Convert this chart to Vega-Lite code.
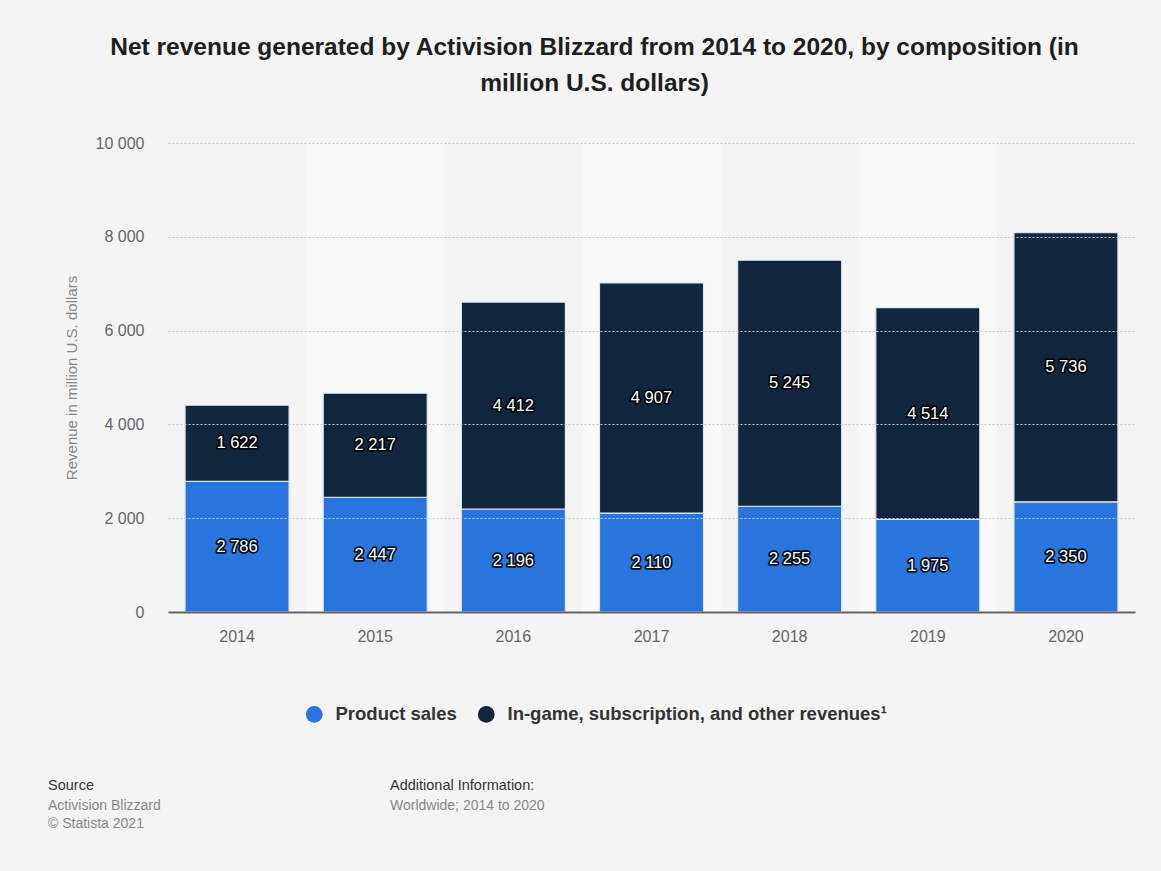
{
  "$schema": "https://vega.github.io/schema/vega-lite/v6.json",
  "width": 967,
  "height": 469,
  "autosize": {"type": "none"},
  "padding": {"left": 168, "top": 143, "right": 26, "bottom": 259},
  "background": "#f4f4f4",
  "config": {"font": "Liberation Sans", "view": {"stroke": null}},
  "title": {
    "text": ["Net revenue generated by Activision Blizzard from 2014 to 2020, by composition (in", "million U.S. dollars)"],
    "fontSize": 24.5,
    "fontWeight": "bold",
    "color": "#1e1e1e",
    "lineHeight": 36,
    "anchor": "middle",
    "frame": "group",
    "dx": -57,
    "offset": 39
  },
  "resolve": {"scale": {"shape": "independent"}},
  "layer": [
    {
      "data": {"values": [{"year": "2015"}, {"year": "2017"}, {"year": "2019"}]},
      "mark": {"type": "bar", "width": {"band": 1.328}, "color": "#f9f9f9", "zindex": 0},
      "encoding": {
        "x": {
          "field": "year", "type": "ordinal",
          "scale": {"domain": ["2014", "2015", "2016", "2017", "2018", "2019", "2020"], "paddingInner": 0.247, "paddingOuter": 0.1235},
          "axis": {"title": null, "labelFontSize": 16, "labelColor": "#666", "labelPadding": 16, "ticks": false, "tickSize": 0, "domainColor": "#666", "domainWidth": 2, "grid": false, "labelAngle": 0, "zindex": 1}
        }
      }
    },
    {
      "data": {"values": [
        {"year": "2014", "type": "Product sales", "value": 2786},
        {"year": "2015", "type": "Product sales", "value": 2447},
        {"year": "2016", "type": "Product sales", "value": 2196},
        {"year": "2017", "type": "Product sales", "value": 2110},
        {"year": "2018", "type": "Product sales", "value": 2255},
        {"year": "2019", "type": "Product sales", "value": 1975},
        {"year": "2020", "type": "Product sales", "value": 2350},
        {"year": "2014", "type": "In-game, subscription, and other revenues¹", "value": 1622},
        {"year": "2015", "type": "In-game, subscription, and other revenues¹", "value": 2217},
        {"year": "2016", "type": "In-game, subscription, and other revenues¹", "value": 4412},
        {"year": "2017", "type": "In-game, subscription, and other revenues¹", "value": 4907},
        {"year": "2018", "type": "In-game, subscription, and other revenues¹", "value": 5245},
        {"year": "2019", "type": "In-game, subscription, and other revenues¹", "value": 4514},
        {"year": "2020", "type": "In-game, subscription, and other revenues¹", "value": 5736}
      ]},
      "transform": [
        {"stack": "value", "groupby": ["year"], "sort": [{"field": "type", "order": "descending"}], "as": ["v0", "v1"]},
        {"calculate": "(datum.v0 + datum.v1) / 2", "as": "mid"},
        {"calculate": "replace(format(datum.value, ','), ',', ' ')", "as": "lab"}
      ],
      "layer": [
        {
          "mark": {"type": "bar", "stroke": "#dce6f2", "strokeWidth": 1.2, "zindex": 2},
          "encoding": {
            "x": {
              "field": "year", "type": "ordinal",
              "scale": {"domain": ["2014", "2015", "2016", "2017", "2018", "2019", "2020"], "paddingInner": 0.247, "paddingOuter": 0.1235},
              "axis": {"title": null, "labelFontSize": 16, "labelColor": "#666", "labelPadding": 16, "ticks": false, "tickSize": 0, "domainColor": "#666", "domainWidth": 2, "grid": false, "labelAngle": 0, "zindex": 1}
            },
            "y": {
              "field": "v1", "type": "quantitative",
              "scale": {"domain": [0, 10000], "nice": false},
              "axis": {"title": "Revenue in million U.S. dollars", "values": [0, 2000, 4000, 6000, 8000, 10000], "labelExpr": "replace(format(datum.value, ','), ',', ' ')", "labelFontSize": 16, "labelColor": "#666", "labelPadding": 24, "ticks": false, "tickSize": 0, "domain": false, "gridColor": "#c8c8c8", "gridDash": [2, 2], "gridWidth": 1, "titleFontSize": 15, "titleColor": "#888", "titleFontWeight": "normal", "titlePadding": 16, "zindex": 1}
            },
            "y2": {"field": "v0"},
            "color": {
              "field": "type", "type": "nominal",
              "scale": {"domain": ["Product sales", "In-game, subscription, and other revenues¹"], "range": ["#2876dd", "#12263d"]},
              "legend": {"orient": "none", "legendX": 137, "legendY": 562, "direction": "horizontal", "title": null, "symbolType": "circle", "symbolSize": 280, "symbolStrokeWidth": 0, "labelFontSize": 18.5, "labelFontWeight": "bold", "labelColor": "#333", "labelOffset": 12, "labelLimit": 0, "columnPadding": 20}
            }
          }
        },
        {
          "mark": {"type": "text", "fontSize": 16.5, "fill": "#000", "stroke": "#000", "strokeWidth": 3.5, "strokeOpacity": 0.9, "strokeJoin": "round", "baseline": "middle", "align": "center", "zindex": 3},
          "encoding": {
            "x": {"field": "year", "type": "ordinal"},
            "y": {"field": "mid", "type": "quantitative"},
            "text": {"field": "lab"}
          }
        },
        {
          "mark": {"type": "text", "fontSize": 16.5, "fill": "#ffffff", "baseline": "middle", "align": "center", "zindex": 4},
          "encoding": {
            "x": {"field": "year", "type": "ordinal"},
            "y": {"field": "mid", "type": "quantitative"},
            "text": {"field": "lab"}
          }
        }
      ]
    },
    {
      "data": {"values": [{"src": "Activision Blizzard"}, {"src": "© Statista 2021"}]},
      "mark": {"type": "point", "opacity": 0},
      "encoding": {
        "shape": {
          "field": "src", "type": "nominal",
          "scale": {"domain": ["Activision Blizzard", "© Statista 2021"]},
          "legend": {"orient": "none", "legendX": -120, "legendY": 636, "title": "Source", "titleFontSize": 14.5, "titleColor": "#333", "titleFontWeight": "normal", "titlePadding": 5, "labelFontSize": 14, "labelColor": "#888", "labelOffset": -14, "symbolSize": 0, "symbolOpacity": 0, "symbolStrokeWidth": 0, "rowPadding": 4}
        }
      }
    },
    {
      "data": {"values": [{"info": "Worldwide; 2014 to 2020"}]},
      "mark": {"type": "point", "opacity": 0},
      "encoding": {
        "shape": {
          "field": "info", "type": "nominal",
          "legend": {"orient": "none", "legendX": 222, "legendY": 636, "title": "Additional Information:", "titleFontSize": 14.5, "titleColor": "#333", "titleFontWeight": "normal", "titlePadding": 5, "labelFontSize": 14, "labelColor": "#888", "labelOffset": -14, "symbolSize": 0, "symbolOpacity": 0, "symbolStrokeWidth": 0, "rowPadding": 4}
        }
      }
    }
  ]
}
